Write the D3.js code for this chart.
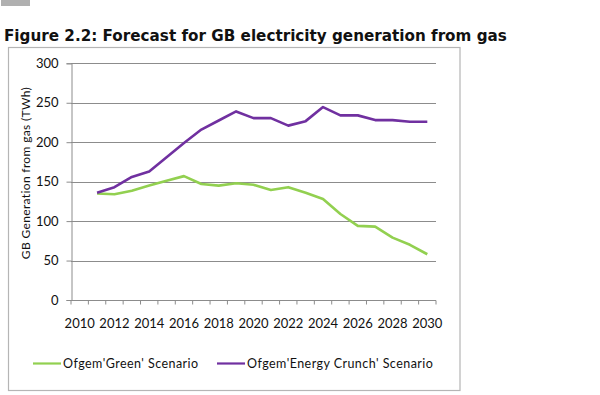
<!DOCTYPE html>
<html>
<head>
<meta charset="utf-8">
<script src="https://cdn.jsdelivr.net/npm/d3@7"></script>
<style>
  body { margin: 0; background: #fff; }
  svg text { fill: #111; }
</style>
</head>
<body>
<div id="chart"></div>
<script>
// Data
const years = d3.range(2010, 2031);
const tickYears = [2010, 2012, 2014, 2016, 2018, 2020, 2022, 2024, 2026, 2028, 2030];
const yTicks = [0, 50, 100, 150, 200, 250, 300];
const seriesYears = d3.range(2011, 2031);
const greenValues = [135, 134, 138.5, 145, 151, 157, 147, 145, 148, 146, 139.5, 143, 136, 128, 109, 94, 93, 79, 70, 58];
const crunchValues = [136, 143, 156, 163, 181, 199, 216, 227.5, 239, 230.5, 230.5, 221, 226.7, 244.5, 234, 234, 228, 228, 226, 226];
const seriesNames = ["Ofgem'Green' Scenario", "Ofgem'Energy Crunch' Scenario"];
const seriesColors = ["#92d050", "#7030a0"];

const width = 600, height = 395;
const margin = { left: 71, right: 164, top: 63.3, bottom: 95 };

const svg = d3.select("#chart").append("svg")
  .attr("width", width)
  .attr("height", height);

// small grey tab top-left
svg.append("rect")
  .attr("x", 1).attr("y", 0).attr("width", 29).attr("height", 6)
  .attr("fill", "#b0b0b0");

// title
svg.append("text")
  .attr("x", 4).attr("y", 41)
  .attr("font-family", "DejaVu Sans")
  .attr("font-weight", "bold")
  .attr("font-size", 15.2)
  .text("Figure 2.2: Forecast for GB electricity generation from gas");

// chart frame
svg.append("rect")
  .attr("x", 8.5).attr("y", 47.5).attr("width", 451.5).attr("height", 343)
  .attr("fill", "none").attr("stroke", "#b5b5b5").attr("stroke-width", 1.2);

const x = d3.scaleBand()
  .domain(years)
  .range([margin.left, width - margin.right]);

const y = d3.scaleLinear()
  .domain([0, 300])
  .range([height - margin.bottom, margin.top]);

const cx = d => x(d) + x.bandwidth() / 2;

// gridlines
svg.append("g")
  .selectAll("line")
  .data(yTicks.filter(d => d > 0))
  .join("line")
  .attr("x1", margin.left).attr("x2", width - margin.right)
  .attr("y1", d => Math.round(y(d)) + 0.5).attr("y2", d => Math.round(y(d)) + 0.5)
  .attr("stroke", "#8c8c8c").attr("stroke-width", 1);

// y axis
const yAxis = svg.append("g")
  .attr("transform", `translate(${margin.left + 0.5},0)`)
  .call(d3.axisLeft(y).tickValues(yTicks).tickSize(5).tickPadding(8));
yAxis.select(".domain").attr("stroke", "#8c8c8c");
yAxis.selectAll(".tick line").attr("stroke", "#8c8c8c");
yAxis.selectAll("text")
  .attr("font-family", "Lato").attr("font-size", 13).attr("fill", "#111");

// x axis (ticks at category boundaries)
const xg = svg.append("g")
  .attr("transform", `translate(0,${Math.round(y(0)) + 0.5})`);
xg.append("line")
  .attr("x1", margin.left).attr("x2", width - margin.right)
  .attr("stroke", "#8c8c8c");
xg.selectAll(".tk")
  .data(years.concat([2031]))
  .join("line")
  .attr("class", "tk")
  .attr("x1", d => d === 2031 ? width - margin.right : x(d))
  .attr("x2", d => d === 2031 ? width - margin.right : x(d))
  .attr("y1", 0).attr("y2", 4)
  .attr("stroke", "#8c8c8c");
xg.selectAll("text")
  .data(tickYears)
  .join("text")
  .attr("x", d => cx(d))
  .attr("y", 27)
  .attr("text-anchor", "middle")
  .attr("font-family", "Lato").attr("font-size", 13)
  .text(d => d);

// y axis title
svg.append("text")
  .attr("transform", `translate(30,173) rotate(-90)`)
  .attr("text-anchor", "middle")
  .attr("font-family", "Lato").attr("font-size", 12)
  .attr("letter-spacing", 0.35)
  .text("GB Generation from gas (TWh)");

// lines
const line = d3.line()
  .x((d, i) => cx(seriesYears[i]))
  .y(d => y(d));

[greenValues, crunchValues].forEach((vals, k) => {
  svg.append("path")
    .datum(vals)
    .attr("d", line)
    .attr("fill", "none")
    .attr("stroke", seriesColors[k])
    .attr("stroke-width", 2.6)
    .attr("stroke-linejoin", "round");
});

// legend
const legendX = [33, 217];
const legend = svg.append("g");
seriesNames.forEach((name, k) => {
  legend.append("line")
    .attr("x1", legendX[k]).attr("x2", legendX[k] + 28)
    .attr("y1", 363.5).attr("y2", 363.5)
    .attr("stroke", seriesColors[k]).attr("stroke-width", 2.2);
  legend.append("text")
    .attr("x", legendX[k] + 30).attr("y", 368)
    .attr("font-family", "Lato").attr("font-size", 12.5)
    .attr("letter-spacing", 0.45)
    .text(name);
});
</script>
</body>
</html>
